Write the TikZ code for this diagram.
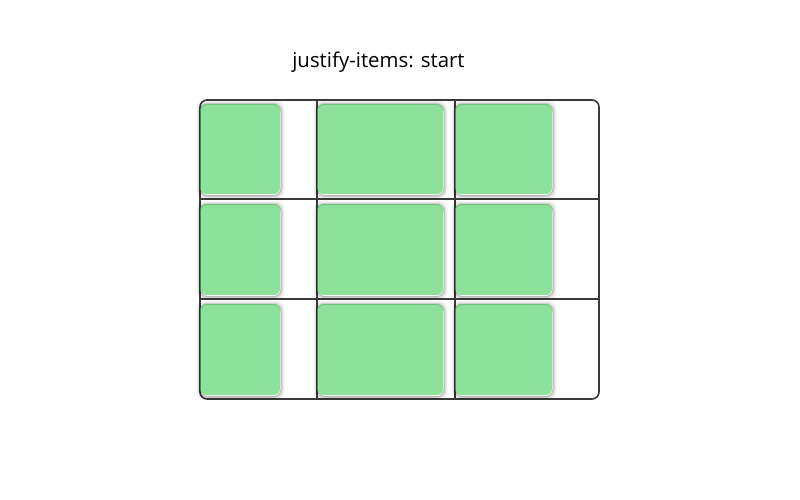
\documentclass[tikz,border=0pt]{standalone}
\usepackage{fontspec}
\setmainfont{Open Sans}
\definecolor{itemgreen}{RGB}{65,205,88}
\definecolor{gridgray}{RGB}{58,58,58}
\tikzset{
  gridline/.style={draw=gridgray, line width=1.6pt},
  itembox/.style={fill=itemgreen, fill opacity=0.6, rounded corners=6pt},
  itemshadow/.style={draw=black, line width=1pt, rounded corners=7pt}
}
\begin{document}
\begin{tikzpicture}[x=1pt,y=-1pt]
  \useasboundingbox (0,0) rectangle (800,500);
  \node [font=\fontsize{20.4}{24}\selectfont, anchor=base, inner sep=0pt] (title) at (378.5,68) {justify-items: start};
  % grid lines
  \draw [gridline, rounded corners=7pt] (200,100) rectangle (599,399);
  \draw [gridline] (317,100) -- (317,399);
  \draw [gridline] (455,100) -- (455,399);
  \draw [gridline] (200,199) -- (599,199);
  \draw [gridline] (200,299) -- (599,299);
  % items, shadow first
  \foreach \xa/\xb in {200/280,317/443,455/552}
    \foreach \ya/\yb in {104/194,204/295,304/395} {
      \foreach \d/\op in {0.5/0.28,1.5/0.18,2.5/0.09,3.5/0.04}
        \draw [itemshadow, draw opacity=\op] (\xa-\d+0.5,\ya-\d+1) rectangle (\xb+\d+0.5,\yb+\d+1);
      \fill [itembox] (\xa,\ya) rectangle (\xb,\yb);
    }
\end{tikzpicture}
\end{document}
